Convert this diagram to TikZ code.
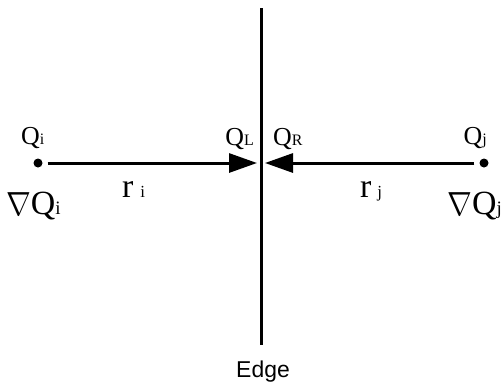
\documentclass[tikz,border=0pt]{standalone}
\usepackage{fontspec}
\usepackage{graphicx}
\setmainfont{Liberation Serif}
\newfontfamily\edgefont{Liberation Sans}
\usetikzlibrary{arrows.meta}
\tikzset{
  wire/.style={line width=3bp},
  arr/.style={line width=3bp,-{Triangle[length=28bp,width=19bp]}},
  dotnode/.style={circle,fill=black,inner sep=0pt,minimum size=9bp},
  qlab/.style={inner sep=0pt,font=\fontsize{26}{26}\selectfont},
  glab/.style={inner sep=0pt,font=\fontsize{34}{34}\selectfont},
  rlab/.style={inner sep=0pt,font=\fontsize{34}{34}\selectfont}
}
\newcommand{\qsub}[1]{{\fontsize{16}{16}\selectfont #1}}
\newcommand{\gsub}[1]{{\fontsize{19}{19}\selectfont #1}}
\newcommand{\rsub}[1]{{\fontsize{17}{17}\selectfont #1}}
\newcommand{\bignabla}{\raisebox{-1.5bp}{\scalebox{1.2}[1.35]{$\nabla$}}}
\begin{document}
\begin{tikzpicture}[x=1bp,y=-1bp]
\useasboundingbox (0,0) rectangle (503,385);
\coordinate (top) at (261,8);
\coordinate (bot) at (261,345);
\draw[wire] (top) -- (bot);
\node[dotnode] (di) at (38,163) {};
\node[dotnode] (dj) at (484,163) {};
\coordinate (li) at (257,163);
\coordinate (rj) at (265,163);
\draw[arr] (di.east) ++(5bp,0) coordinate (si) -- (li);
\draw[arr] (dj.west) ++(-5bp,0) coordinate (sj) -- (rj);
\node[qlab,anchor=base west] (qi) at (21,144) {Q\qsub{i}};
\node[qlab,anchor=base east] (ql) at (254,145) {Q\qsub{L}};
\node[qlab,anchor=base west] (qr) at (273,145) {Q\qsub{R}};
\node[qlab,anchor=base east] (qj) at (487,144) {Q\qsub{j}};
\node[glab,anchor=base west] (gi) at (6,214) {\bignabla Q\gsub{i}};
\node[glab,anchor=base east] (gj) at (502,214) {\bignabla Q\gsub{j}};
\node[rlab,anchor=base west] (ri) at (122,197) {r\hspace{7bp}\rsub{i}};
\node[rlab,anchor=base west] (rjl) at (360,197) {r\hspace{6bp}\rsub{j}};
\node[inner sep=0pt,anchor=base,font=\edgefont\fontsize{23}{23}\selectfont] (edge) at (263,377) {Edge};
\end{tikzpicture}
\end{document}
